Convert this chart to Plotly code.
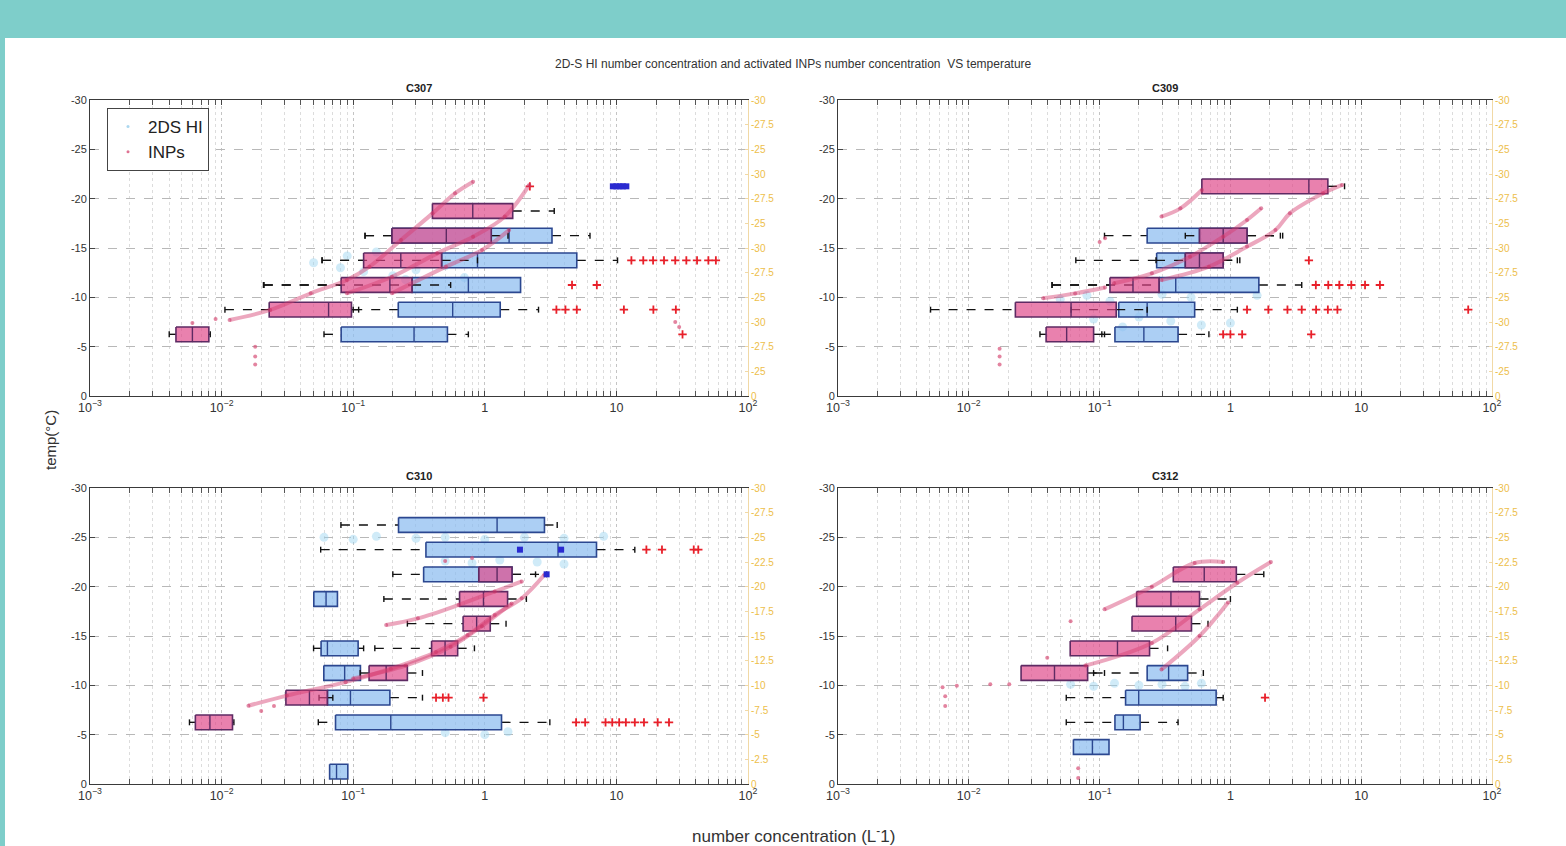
import plotly.graph_objects as go

W, H = 1566, 846
FONT = "Liberation Sans, Arial, sans-serif"

panel_names = ["C307", "C309", "C310", "C312"]

# ---------------- C307 ----------------
c307_hi_t = [-6.25, -8.75, -11.25, -13.75, -16.25]
c307_hi_lo = [0.060, 0.10, 0.021, 0.058, 0.123]
c307_hi_q1 = [0.081, 0.22, 0.28, 0.47, 0.197]
c307_hi_med = [0.29, 0.57, 0.75, 0.88, 1.53]
c307_hi_q3 = [0.52, 1.31, 1.87, 5.0, 3.24]
c307_hi_hi = [0.75, 2.56, 1.87, 10.2, 6.3]
c307_hi_out_t = [-6.25, -8.75, -8.75, -8.75, -8.75, -8.75, -8.75, -11.25, -11.25,
                 -13.75, -13.75, -13.75, -13.75, -13.75, -13.75, -13.75, -13.75, -13.75]
c307_hi_out_x = [31.8, 3.5, 4.1, 5.0, 11.4, 19.1, 28.3, 4.6, 7.1,
                 13, 16, 19, 23, 28, 34, 41, 50, 57]
c307_mark_t = [-21.25, -21.25, -21.25, -21.25, -21.25]
c307_mark_x = [9.4, 10.0, 10.6, 11.2, 11.9]

c307_inp_t = [-6.25, -8.75, -11.25, -13.75, -16.25, -18.75]
c307_inp_lo = [0.0040, 0.0106, 0.0208, 0.058, 0.123, 0.40]
c307_inp_q1 = [0.0045, 0.023, 0.081, 0.12, 0.197, 0.40]
c307_inp_med = [0.0060, 0.065, 0.19, 0.23, 0.51, 0.81]
c307_inp_q3 = [0.0080, 0.097, 0.28, 0.47, 1.12, 1.63]
c307_inp_hi = [0.0082, 0.11, 0.55, 0.88, 1.5, 3.37]
c307_inp_out_t = [-21.25]
c307_inp_out_x = [2.2]

c307_trails_x = [[0.0115, 0.0234, 0.0476, 0.0895, 0.133, 0.231, 0.401, 0.594, 0.815],
                 [0.0895, 0.197, 0.434, 0.815, 1.42, 2.18],
                 [0.197, 0.507, 0.953, 1.53]]
c307_trails_t = [[-7.70, -8.72, -10.41, -11.76, -13.11, -15.81, -18.51, -20.54, -21.72],
                 [-10.41, -12.09, -14.46, -16.15, -18.18, -21.39],
                 [-10.41, -13.11, -14.80, -16.82]]
c307_inp_pts_x = [0.018, 0.018, 0.018, 28, 30, 0.006, 0.009]
c307_inp_pts_t = [-5.0, -4.0, -3.2, -7.5, -7.0, -7.4, -7.8]
c307_hi_pts_x = [0.05, 0.08, 0.12, 0.2, 0.3, 0.5, 0.7, 0.09, 0.15, 0.25]
c307_hi_pts_t = [-13.5, -13.0, -12.6, -12.2, -12.8, -13.2, -12.0, -14.2, -14.6, -11.8]

# ---------------- C309 ----------------
c309_hi_t = [-6.25, -8.75, -11.25, -13.75, -16.25]
c309_hi_lo = [0.104, 0.0605, 0.0433, 0.0658, 0.109]
c309_hi_q1 = [0.131, 0.14, 0.285, 0.273, 0.231]
c309_hi_med = [0.218, 0.231, 0.382, 0.452, 0.58]
c309_hi_q3 = [0.398, 0.533, 1.65, 0.881, 1.34]
c309_hi_hi = [0.685, 1.13, 3.51, 1.18, 2.51]
c309_hi_out_t = [-6.25, -6.25, -6.25, -6.25,
                 -8.75, -8.75, -8.75, -8.75, -8.75, -8.75, -8.75, -8.75,
                 -11.25, -11.25, -11.25, -11.25, -11.25, -11.25, -13.75]
c309_hi_out_x = [0.88, 1.0, 1.23, 4.15,
                 1.34, 1.95, 2.73, 3.51, 4.52, 5.56, 6.58, 65.8,
                 4.5, 5.6, 6.8, 8.4, 10.7, 13.9, 3.98]

c309_inp_t = [-6.25, -8.75, -11.25, -13.75, -16.25, -21.25]
c309_inp_lo = [0.035, 0.0051, 0.0433, 0.27, 0.452, 0.605]
c309_inp_q1 = [0.039, 0.0227, 0.120, 0.452, 0.58, 0.605]
c309_inp_med = [0.056, 0.0605, 0.180, 0.58, 0.881, 3.98]
c309_inp_q3 = [0.090, 0.134, 0.285, 0.881, 1.34, 5.56]
c309_inp_hi = [0.109, 0.231, 0.285, 1.13, 2.41, 7.46]
c309_inp_out_t = []
c309_inp_out_x = []

c309_trails_x = [[0.297, 0.415, 0.605],
                 [0.129, 0.251, 0.491, 0.881, 1.34, 1.72],
                 [0.297, 0.685, 1.34, 2.21, 2.85, 5.12, 7.16],
                 [0.037, 0.065, 0.11]]
c309_trails_t = [[-18.18, -19.02, -20.88],
                 [-11.42, -12.43, -14.12, -16.15, -17.84, -19.02],
                 [-11.76, -13.11, -15.14, -16.82, -18.51, -20.54, -21.39],
                 [-9.9, -10.4, -11.0]]
c309_inp_pts_x = [0.0172, 0.0172, 0.0172, 0.1, 0.11]
c309_inp_pts_t = [-4.8, -4.0, -3.2, -15.6, -16.0]
c309_hi_pts_x = [0.05, 0.08, 0.12, 0.2, 0.35, 0.6, 0.09, 0.15, 0.3, 0.5, 1.0, 1.6]
c309_hi_pts_t = [-9.8, -10.2, -9.6, -8.0, -7.6, -7.2, -7.8, -7.0, -10.3, -10.0, -7.4, -10.2]

# ---------------- C310 ----------------
c310_hi_t = [-26.25, -23.75, -21.25, -18.75, -13.75, -11.25, -8.75, -6.25, -1.25]
c310_hi_lo = [0.0807, 0.0566, 0.20, 0.0502, 0.050, 0.0598, 0.055, 0.0543, 0.0662]
c310_hi_q1 = [0.221, 0.357, 0.343, 0.0502, 0.057, 0.0598, 0.0637, 0.0734, 0.0662]
c310_hi_med = [1.24, 3.6, 0.90, 0.0622, 0.0637, 0.0861, 0.0953, 0.193, 0.0747]
c310_hi_q3 = [2.84, 7.06, 1.61, 0.0759, 0.109, 0.1135, 0.19, 1.34, 0.091]
c310_hi_hi = [3.55, 13.8, 2.95, 0.0759, 0.12, 0.1135, 0.336, 3.12, 0.091]
c310_hi_out_t = [-23.75, -23.75, -23.75, -23.75,
                 -8.75, -8.75, -8.75, -8.75,
                 -6.25, -6.25, -6.25, -6.25, -6.25, -6.25, -6.25, -6.25, -6.25, -6.25]
c310_hi_out_x = [16.9, 22.2, 38.7, 41.9,
                 0.426, 0.48, 0.53, 0.977,
                 4.94, 5.79, 8.27, 9.3, 10.5, 11.8, 13.8, 16.2, 20.6, 25.1]
c310_mark_t = [-23.75, -23.75, -21.25]
c310_mark_x = [1.85, 3.8, 2.95]

c310_inp_t = [-6.25, -8.75, -11.25, -13.75, -16.25, -18.75, -21.25]
c310_inp_lo = [0.0057, 0.0308, 0.113, 0.146, 0.258, 0.171, 0.90]
c310_inp_q1 = [0.00632, 0.0308, 0.132, 0.394, 0.684, 0.643, 0.90]
c310_inp_med = [0.00815, 0.0465, 0.178, 0.499, 0.867, 0.977, 1.24]
c310_inp_q3 = [0.0121, 0.0637, 0.258, 0.622, 1.10, 1.49, 1.61]
c310_inp_hi = [0.0124, 0.07, 0.336, 0.834, 1.45, 2.07, 2.43]
c310_inp_out_t = []
c310_inp_out_x = []

c310_trails_x = [[0.016, 0.0313, 0.0875, 0.193, 0.426, 0.74, 1.19, 1.91, 2.84],
                 [0.178, 0.31, 0.632, 1.19, 1.91],
                 [0.1, 0.25, 0.55, 0.95, 1.6]]
c310_trails_t = [[-7.93, -8.96, -10.32, -11.68, -13.38, -15.09, -17.13, -18.83, -21.21],
                 [-16.11, -16.79, -18.15, -19.51, -20.53],
                 [-10.7, -12.0, -13.9, -16.0, -18.3]]
c310_inp_pts_x = [0.02, 0.025, 0.5, 0.8]
c310_inp_pts_t = [-7.4, -7.9, -22.6, -22.9]
c310_hi_pts_x = [0.06, 0.1, 0.15, 0.3, 0.5, 1.0, 2.0, 4.0, 8.0, 0.5, 0.8, 1.3, 2.5, 4.0, 0.5, 1.0, 1.5]
c310_hi_pts_t = [-25.0, -24.8, -25.1, -24.9, -25.0, -24.8, -25.0, -24.9, -25.1,
                 -22.6, -22.4, -22.7, -22.5, -22.3, -5.2, -5.0, -5.3]

# ---------------- C312 ----------------
c312_hi_t = [-3.75, -6.25, -8.75, -11.25]
c312_hi_lo = [0.0631, 0.0556, 0.0556, 0.09]
c312_hi_q1 = [0.0631, 0.131, 0.158, 0.231]
c312_hi_med = [0.0881, 0.152, 0.199, 0.337]
c312_hi_q3 = [0.118, 0.204, 0.778, 0.471]
c312_hi_hi = [0.118, 0.398, 0.881, 0.621]
c312_hi_out_t = [-8.75]
c312_hi_out_x = [1.84]

c312_inp_t = [-11.25, -13.75, -16.25, -18.75, -21.25]
c312_inp_lo = [0.0251, 0.0596, 0.177, 0.192, 0.366]
c312_inp_q1 = [0.0251, 0.0596, 0.177, 0.192, 0.366]
c312_inp_med = [0.0452, 0.137, 0.382, 0.351, 0.631]
c312_inp_q3 = [0.081, 0.241, 0.504, 0.581, 1.11]
c312_inp_hi = [0.109, 0.331, 0.674, 1.0, 1.8]
c312_inp_out_t = []
c312_inp_out_x = []

c312_trails_x = [[0.109, 0.251, 0.533, 0.881],
                 [0.0778, 0.251, 0.581, 1.13, 2.04],
                 [0.297, 0.581, 0.96]]
c312_trails_t = [[-17.7, -20.0, -22.4, -22.5],
                 [-12.0, -14.3, -17.7, -20.4, -22.5],
                 [-11.6, -15.0, -18.4]]
c312_inp_pts_x = [0.0063, 0.0081, 0.0146, 0.0204, 0.0398, 0.0686, 0.0686, 0.0066, 0.0066, 0.06]
c312_inp_pts_t = [-9.8, -9.95, -10.1, -10.1, -12.8, -1.6, -0.6, -8.9, -7.9, -16.5]
c312_hi_pts_x = [0.06, 0.09, 0.13, 0.2, 0.3, 0.45, 0.6]
c312_hi_pts_t = [-10.1, -9.9, -10.2, -10.0, -10.1, -9.9, -10.2]

right_labels_top = ["-30", "-27.5", "-25", "-30", "-27.5", "-25", "-30",
                    "-27.5", "-25", "-30", "-27.5", "-25", "0"]
right_labels_bottom = ["-30", "-27.5", "-25", "-22.5", "-20", "-17.5", "-15",
                       "-12.5", "-10", "-7.5", "-5", "-2.5", "0"]
right_tickvals = [-30, -27.5, -25, -22.5, -20, -17.5, -15, -12.5, -10, -7.5, -5, -2.5, 0]
left_tickvals = [-30, -25, -20, -15, -10, -5, 0]
left_ticktext = ["-30", "-25", "-20", "-15", "-10", "-5", "0"]

panels = [
    dict(hi=(c307_hi_t, c307_hi_lo, c307_hi_q1, c307_hi_med, c307_hi_q3, c307_hi_hi, c307_hi_out_t, c307_hi_out_x),
         inp=(c307_inp_t, c307_inp_lo, c307_inp_q1, c307_inp_med, c307_inp_q3, c307_inp_hi, c307_inp_out_t, c307_inp_out_x),
         trails=(c307_trails_x, c307_trails_t), inp_pts=(c307_inp_pts_x, c307_inp_pts_t),
         hi_pts=(c307_hi_pts_x, c307_hi_pts_t), marks=(c307_mark_x, c307_mark_t), rlabels=right_labels_top),
    dict(hi=(c309_hi_t, c309_hi_lo, c309_hi_q1, c309_hi_med, c309_hi_q3, c309_hi_hi, c309_hi_out_t, c309_hi_out_x),
         inp=(c309_inp_t, c309_inp_lo, c309_inp_q1, c309_inp_med, c309_inp_q3, c309_inp_hi, c309_inp_out_t, c309_inp_out_x),
         trails=(c309_trails_x, c309_trails_t), inp_pts=(c309_inp_pts_x, c309_inp_pts_t),
         hi_pts=(c309_hi_pts_x, c309_hi_pts_t), marks=([], []), rlabels=right_labels_top),
    dict(hi=(c310_hi_t, c310_hi_lo, c310_hi_q1, c310_hi_med, c310_hi_q3, c310_hi_hi, c310_hi_out_t, c310_hi_out_x),
         inp=(c310_inp_t, c310_inp_lo, c310_inp_q1, c310_inp_med, c310_inp_q3, c310_inp_hi, c310_inp_out_t, c310_inp_out_x),
         trails=(c310_trails_x, c310_trails_t), inp_pts=(c310_inp_pts_x, c310_inp_pts_t),
         hi_pts=(c310_hi_pts_x, c310_hi_pts_t), marks=(c310_mark_x, c310_mark_t), rlabels=right_labels_bottom),
    dict(hi=(c312_hi_t, c312_hi_lo, c312_hi_q1, c312_hi_med, c312_hi_q3, c312_hi_hi, c312_hi_out_t, c312_hi_out_x),
         inp=(c312_inp_t, c312_inp_lo, c312_inp_q1, c312_inp_med, c312_inp_q3, c312_inp_hi, c312_inp_out_t, c312_inp_out_x),
         trails=(c312_trails_x, c312_trails_t), inp_pts=(c312_inp_pts_x, c312_inp_pts_t),
         hi_pts=(c312_hi_pts_x, c312_hi_pts_t), marks=([], []), rlabels=right_labels_bottom),
]

# pixel layout of the four axes boxes
xdom_px = [(90, 748), (838, 1492), (90, 748), (838, 1492)]
ydom_px = [(100, 396), (100, 396), (488, 784), (488, 784)]

HALF = 0.75
CAP = 0.3

BLUE_FILL = "rgba(140,188,240,0.72)"
BLUE_EDGE = "#2b4790"
PINK_FILL = "rgba(222,70,135,0.68)"
PINK_EDGE = "#5e2a63"

fig = go.Figure()

# legend-only entries (tiny dot markers like the original legend)
fig.add_trace(go.Scatter(x=[None], y=[None], mode="markers", name="2DS HI",
                         marker=dict(size=3, color="rgba(150,205,235,0.8)"), hoverinfo="skip"))
fig.add_trace(go.Scatter(x=[None], y=[None], mode="markers", name="INPs",
                         marker=dict(size=3, color="rgba(215,80,120,0.8)"), hoverinfo="skip"))


def add_boxes(fig, xa, ya, stats, fill, edge):
    t, lo, q1, med, q3, hi, out_t, out_x = stats
    bx, by, mx, my, wx, wy, cx, cy = [], [], [], [], [], [], [], []
    for i in range(len(t)):
        bx += [q1[i], q3[i], q3[i], q1[i], q1[i], None]
        by += [t[i] - HALF, t[i] - HALF, t[i] + HALF, t[i] + HALF, t[i] - HALF, None]
        mx += [med[i], med[i], None]
        my += [t[i] - HALF, t[i] + HALF, None]
        if lo[i] < q1[i]:
            wx += [lo[i], q1[i], None]
            wy += [t[i], t[i], None]
            cx += [lo[i], lo[i], None]
            cy += [t[i] - CAP, t[i] + CAP, None]
        if hi[i] > q3[i]:
            wx += [q3[i], hi[i], None]
            wy += [t[i], t[i], None]
            cx += [hi[i], hi[i], None]
            cy += [t[i] - CAP, t[i] + CAP, None]
    fig.add_trace(go.Scatter(x=wx, y=wy, xaxis=xa, yaxis=ya, mode="lines",
                             line=dict(color="#111", width=1.4, dash="dash"),
                             showlegend=False, hoverinfo="skip"))
    fig.add_trace(go.Scatter(x=cx, y=cy, xaxis=xa, yaxis=ya, mode="lines",
                             line=dict(color="#111", width=1.4),
                             showlegend=False, hoverinfo="skip"))
    fig.add_trace(go.Scatter(x=bx, y=by, xaxis=xa, yaxis=ya, mode="lines", fill="toself",
                             fillcolor=fill, line=dict(color=edge, width=1.6),
                             showlegend=False, hoverinfo="skip"))
    fig.add_trace(go.Scatter(x=mx, y=my, xaxis=xa, yaxis=ya, mode="lines",
                             line=dict(color=edge, width=1.4),
                             showlegend=False, hoverinfo="skip"))
    if out_x:
        fig.add_trace(go.Scatter(x=out_x, y=out_t, xaxis=xa, yaxis=ya, mode="markers",
                                 marker=dict(symbol="cross-thin", size=6,
                                             line=dict(color="#e8202a", width=1.8)),
                                 showlegend=False, hoverinfo="skip"))


for k, p in enumerate(panels, start=1):
    xa = "x" if k == 1 else f"x{k}"
    ya = "y" if k == 1 else f"y{k}"
    hx, ht = p["hi_pts"]
    fig.add_trace(go.Scatter(x=hx, y=ht, xaxis=xa, yaxis=ya, mode="markers",
                             marker=dict(size=9, color="rgba(150,210,240,0.45)"),
                             showlegend=False, hoverinfo="skip"))
    add_boxes(fig, xa, ya, p["hi"], BLUE_FILL, BLUE_EDGE)
    add_boxes(fig, xa, ya, p["inp"], PINK_FILL, PINK_EDGE)
    tx, tt = p["trails"]
    for xs, ts in zip(tx, tt):
        fig.add_trace(go.Scatter(x=xs, y=ts, xaxis=xa, yaxis=ya, mode="lines+markers",
                                 line=dict(color="rgba(212,60,110,0.45)", width=4, shape="spline"),
                                 marker=dict(size=4, color="rgba(200,50,100,0.55)"),
                                 showlegend=False, hoverinfo="skip"))
    px_, pt_ = p["inp_pts"]
    fig.add_trace(go.Scatter(x=px_, y=pt_, xaxis=xa, yaxis=ya, mode="markers",
                             marker=dict(size=4, color="rgba(215,80,120,0.7)"),
                             showlegend=False, hoverinfo="skip"))
    mkx, mkt = p["marks"]
    if mkx:
        fig.add_trace(go.Scatter(x=mkx, y=mkt, xaxis=xa, yaxis=ya, mode="markers",
                                 marker=dict(size=6, color="#2a2ad0", symbol="square"),
                                 showlegend=False, hoverinfo="skip"))
    fig.add_trace(go.Scatter(x=[1], y=[0], xaxis=xa, yaxis=f"y{k + 4}", mode="markers",
                             marker=dict(opacity=0), showlegend=False, hoverinfo="skip"))

layout = dict(
    width=W, height=H,
    margin=dict(l=0, r=0, t=0, b=0, pad=0, autoexpand=False),
    paper_bgcolor="white", plot_bgcolor="white",
    font=dict(family=FONT, color="#262626"),
    showlegend=True,
    legend=dict(x=107 / W, y=1 - 108 / H, xanchor="left", yanchor="top",
                bgcolor="white", bordercolor="#444", borderwidth=1,
                font=dict(size=17, family=FONT, color="#222"),
                itemsizing="trace", tracegroupgap=0, itemwidth=30),
)

for k in range(1, 5):
    x0, x1 = xdom_px[k - 1]
    y0, y1 = ydom_px[k - 1]
    xkey = "xaxis" if k == 1 else f"xaxis{k}"
    ykey = "yaxis" if k == 1 else f"yaxis{k}"
    yanchor_name = "y" if k == 1 else f"y{k}"
    xanchor_name = "x" if k == 1 else f"x{k}"
    layout[xkey] = dict(
        type="log", range=[-3, 2], domain=[x0 / W, x1 / W], anchor=yanchor_name,
        dtick=1, exponentformat="power", showexponent="all",
        showgrid=True, gridcolor="#c4c4c4", griddash="dot", gridwidth=1,
        minor=dict(dtick="D1", showgrid=True, gridcolor="#dcdcdc", griddash="dot",
                   ticks="inside", ticklen=3, tickcolor="#555"),
        ticks="inside", ticklen=5, tickcolor="#444",
        showline=True, linecolor="#3a3a3a", linewidth=1, mirror="allticks",
        tickfont=dict(size=10, color="#333"), zeroline=False, automargin=False,
    )
    layout[ykey] = dict(
        range=[0, -30], domain=[1 - y1 / H, 1 - y0 / H], anchor=xanchor_name,
        tickvals=left_tickvals, ticktext=left_ticktext,
        showgrid=True, gridcolor="#b8b8b8", griddash="dash", gridwidth=1,
        ticks="inside", ticklen=5, tickcolor="#444",
        showline=True, linecolor="#3a3a3a", linewidth=1, mirror=True,
        tickfont=dict(size=11, color="#333"), zeroline=False, automargin=False,
    )
    layout[f"yaxis{k + 4}"] = dict(
        range=[0, -30], overlaying=yanchor_name, side="right", anchor=xanchor_name,
        tickvals=right_tickvals, ticktext=panels[k - 1]["rlabels"],
        tickfont=dict(size=10, color="#EDBE4A"),
        showgrid=False, showline=True, linecolor="#F1D9A6", linewidth=1,
        ticks="inside", ticklen=3, tickcolor="#F1D9A6", zeroline=False, automargin=False,
    )

fig.update_layout(**layout)

annotations = [
    dict(text="2D-S HI number concentration and activated INPs number concentration  VS temperature",
         x=793 / W, y=1 - 64 / H, xref="paper", yref="paper", showarrow=False,
         font=dict(size=12, color="#333", family=FONT), xanchor="center", yanchor="middle"),
    dict(text="temp(°C)", x=50 / W, y=1 - 440 / H, xref="paper", yref="paper",
         showarrow=False, textangle=-90, font=dict(size=15, color="#333", family=FONT),
         xanchor="center", yanchor="middle"),
    dict(text="number concentration (L<sup>-</sup>1)", x=793 / W, y=1 - 835 / H,
         xref="paper", yref="paper", showarrow=False,
         font=dict(size=17, color="#333", family=FONT), xanchor="center", yanchor="middle"),
]
for k, name in enumerate(panel_names):
    x0, x1 = xdom_px[k]
    y0, _ = ydom_px[k]
    annotations.append(dict(text=f"<b>{name}</b>", x=(x0 + x1) / 2 / W, y=1 - (y0 - 12) / H,
                            xref="paper", yref="paper", showarrow=False,
                            font=dict(size=11, color="#222", family=FONT),
                            xanchor="center", yanchor="middle"))
fig.update_layout(annotations=annotations)

fig.update_layout(shapes=[
    dict(type="rect", xref="paper", yref="paper", x0=0, x1=1, y0=1 - 38 / H, y1=1,
         fillcolor="#7ECECA", line=dict(width=0), layer="below"),
    dict(type="rect", xref="paper", yref="paper", x0=0, x1=5 / W, y0=0, y1=1,
         fillcolor="#7ECECA", line=dict(width=0), layer="below"),
])

fig.write_html("out.html")
